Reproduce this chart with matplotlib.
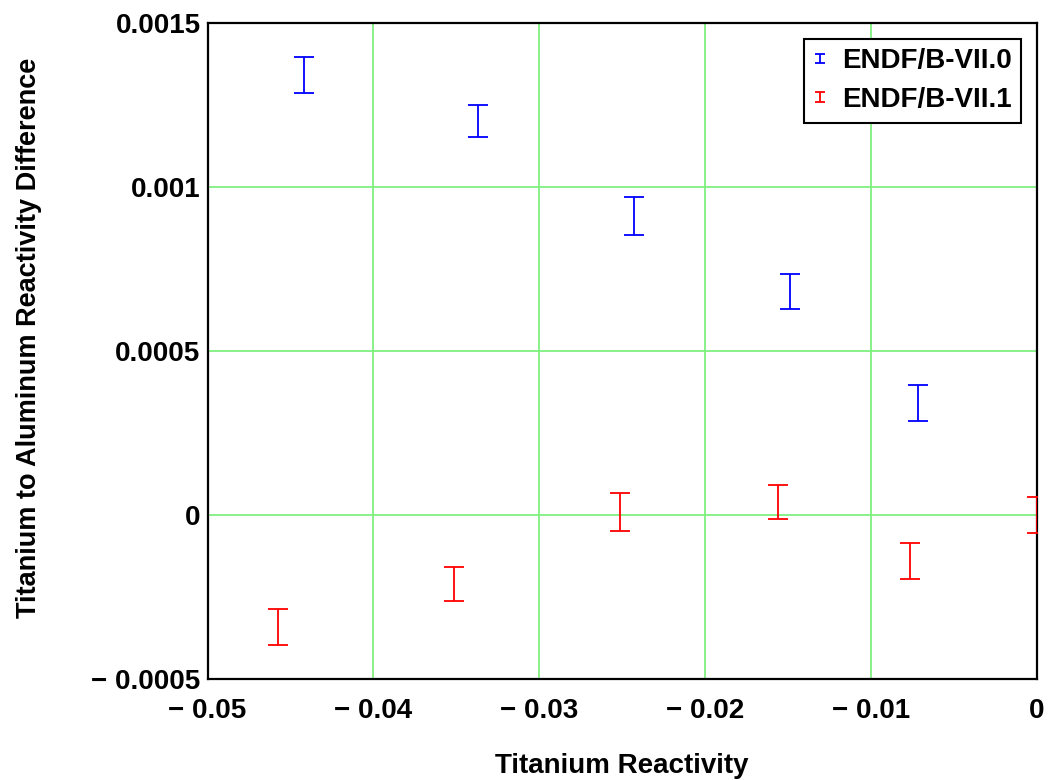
import matplotlib
matplotlib.use('Agg')
import matplotlib.pyplot as plt
from matplotlib.legend_handler import HandlerErrorbar
from matplotlib.lines import Line2D

# Data
x_b = [-0.0442, -0.0337, -0.0243, -0.0149, -0.00715]
y_b = [0.001341, 0.0012005, 0.000911, 0.00068, 0.00034]
e_b = [0.000055, 0.000049, 0.000058, 0.000053, 0.000055]

x_r = [-0.04575, -0.03513, -0.02512, -0.01559, -0.00763, 0.0]
y_r = [-0.000343, -0.000211, 0.000009, 0.00004, -0.000141, 0.0]
e_r = [0.000055, 0.000052, 0.000058, 0.000052, 0.000055, 0.000055]

x_ticks = [-0.05, -0.04, -0.03, -0.02, -0.01, 0.0]
x_tick_labels = ['\u2212 0.05', '\u2212 0.04', '\u2212 0.03', '\u2212 0.02', '\u2212 0.01', '0']
y_ticks = [-0.0005, 0.0, 0.0005, 0.001, 0.0015]
y_tick_labels = ['\u2212 0.0005', '0', '0.0005', '0.001', '0.0015']

labels = ['ENDF/B-VII.0', 'ENDF/B-VII.1']

plt.rcParams['font.family'] = ['Liberation Sans', 'DejaVu Sans']
plt.rcParams['font.weight'] = 'bold'

FS = 20


class SmallErr(HandlerErrorbar):
    def create_artists(self, legend, orig_handle, xdescent, ydescent, width,
                       height, fontsize, trans):
        arts = super().create_artists(legend, orig_handle, xdescent, ydescent,
                                      width, height, fontsize, trans)
        for a in arts:
            if isinstance(a, Line2D):
                a.set_markersize(7)
        return arts


fig = plt.figure(figsize=(10.54, 7.80), dpi=100)
ax = fig.add_axes([0.1969, 0.1299, 0.7867, 0.8410])

h1 = ax.errorbar(x_b, y_b, yerr=e_b, fmt='none', ecolor='#0000ff', elinewidth=1.3,
                 capsize=7.2, capthick=1.3, label=labels[0], zorder=3)
h2 = ax.errorbar(x_r, y_r, yerr=e_r, fmt='none', ecolor='#ff0000', elinewidth=1.3,
                 capsize=7.2, capthick=1.3, label=labels[1], zorder=3)

ax.set_xlim(-0.05, 0.0)
ax.set_ylim(-0.0005, 0.0015)
ax.set_xticks(x_ticks)
ax.set_xticklabels(x_tick_labels)
ax.set_yticks(y_ticks)
ax.set_yticklabels(y_tick_labels)
ax.tick_params(axis='x', length=0, pad=14, labelsize=FS)
ax.tick_params(axis='y', length=0, pad=5, labelsize=FS)
for lab in ax.get_xticklabels() + ax.get_yticklabels():
    lab.set_fontweight('bold')

ax.grid(True, color='#80f080', linewidth=1.3, zorder=0)
ax.set_axisbelow(True)
for sp in ax.spines.values():
    sp.set_linewidth(1.6)
    sp.set_color('black')

ax.set_xlabel('Titanium Reactivity', fontsize=FS, fontweight='bold')
ax.xaxis.label.set_va('center')
ax.xaxis.set_label_coords(0.5, -0.133)
ax.set_ylabel('Titanium to Aluminum Reactivity Difference', fontsize=19.5, fontweight='bold')
ax.yaxis.label.set_va('center')
ax.yaxis.set_label_coords(-0.215, 0.52)

hm = SmallErr(yerr_size=0.17)
leg = ax.legend(handles=[h1, h2], labels=labels,
                handler_map={h1: hm, h2: hm},
                loc='upper right', bbox_to_anchor=(0.9813, 0.9756), borderaxespad=0,
                fancybox=False, framealpha=1, edgecolor='black',
                handlelength=0.4, handletextpad=0.6, borderpad=0.35, labelspacing=0.45,
                prop={'weight': 'bold', 'size': FS})
leg.get_frame().set_linewidth(1.5)

fig.savefig('out.png', dpi=100)
